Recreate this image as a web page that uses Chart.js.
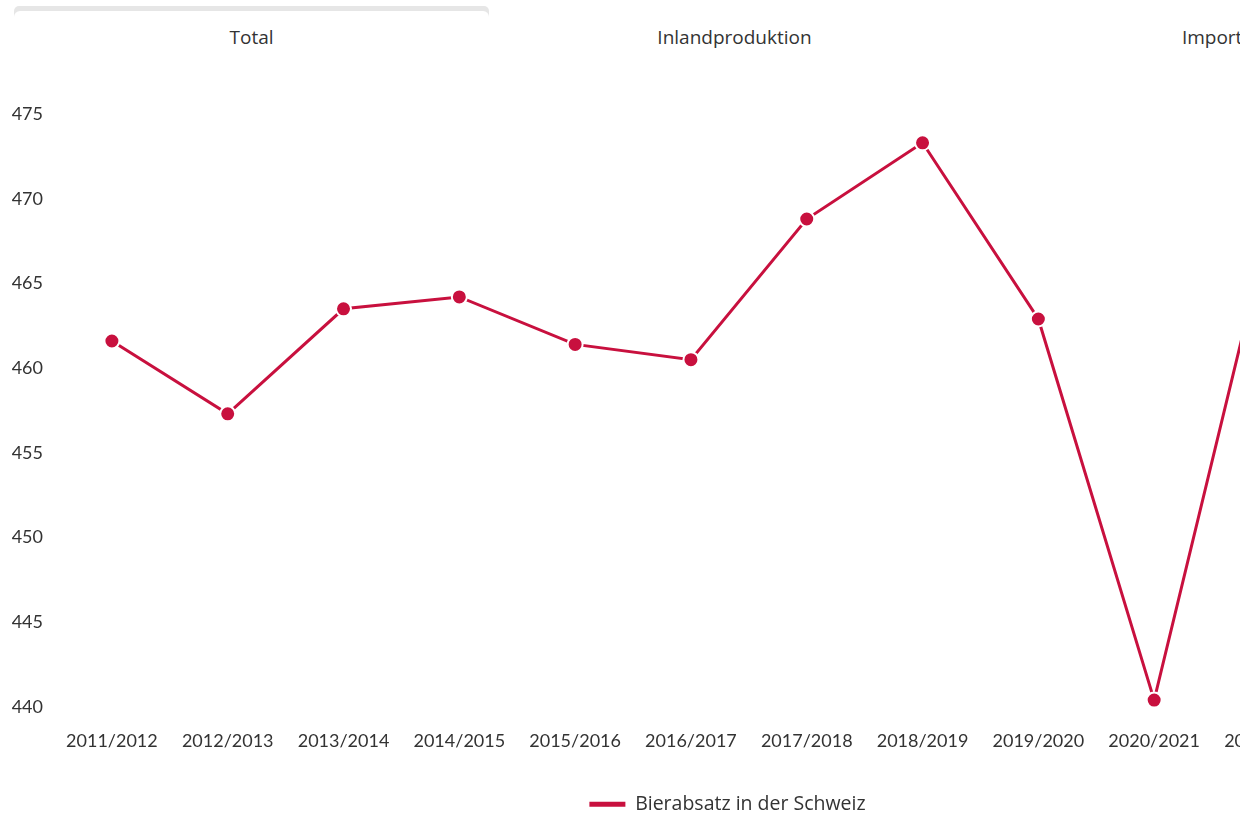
<!DOCTYPE html>
<html lang="de">
<head>
<meta charset="utf-8">
<title>Bierabsatz in der Schweiz</title>
<script src="https://cdn.jsdelivr.net/npm/chart.js@4/dist/chart.umd.min.js"></script>
<style>
  html, body { margin: 0; padding: 0; background: #fff; overflow: hidden; width: 1240px; height: 813px; }
  body { font-family: "Open Sans", Lato, sans-serif; color: #333; position: relative; }
  .tabs { position: absolute; left: 14px; top: 6px; width: 1441px; height: 54px; }
  .tab { position: absolute; top: 0; width: 475px; height: 54px; text-align: center; font-size: 19px; line-height: 19px; }
  .tab span { position: absolute; left: 0; right: 0; top: 22px; }
  .tab.active { background: #e6e6e6; border-radius: 5px 5px 0 0; }
  .tab.active::after { content: ""; position: absolute; left: 0; right: 0; top: 5px; bottom: 0; background: #fff; border-radius: 6px 6px 0 0; }
  .tab.active span { z-index: 1; }
  .chart-box { position: absolute; left: 0; top: 60px; width: 1455px; height: 764px; }
</style>
</head>
<body>
<div class="tabs">
  <div class="tab active" style="left:0"><span>Total</span></div>
  <div class="tab" style="left:483px"><span>Inlandproduktion</span></div>
  <div class="tab" style="left:966px"><span>Importe</span></div>
</div>
<div class="chart-box"><canvas id="chart"></canvas></div>
<script>
// Braujahre (Oktober bis September)
const years = ["2011/2012", "2012/2013", "2013/2014", "2014/2015", "2015/2016", "2016/2017",
               "2017/2018", "2018/2019", "2019/2020", "2020/2021", "2021/2022", "2022/2023"];
// Bierabsatz in Mio. Litern
const beerSales = [461.6, 457.3, 463.5, 464.2, 461.4, 460.5, 468.8, 473.3, 462.9, 440.4, 468.6, 462.0];
const seriesName = "Bierabsatz in der Schweiz";
const yTicks = [440, 445, 450, 455, 460, 465, 470, 475];

const red = "#c8103e";
const textColor = "#333333";
const tickFont = "Lato, 'Open Sans', sans-serif";
const textFont = "'Open Sans', Lato, sans-serif";

new Chart(document.getElementById("chart"), {
  type: "line",
  data: {
    labels: years,
    datasets: [{
      label: seriesName,
      data: beerSales,
      borderColor: red,
      backgroundColor: red,
      borderWidth: 3,
      tension: 0,
      pointRadius: 7.5,
      pointBorderWidth: 2,
      pointBorderColor: "#ffffff",
      pointBackgroundColor: red,
      clip: false
    }]
  },
  options: {
    responsive: true,
    maintainAspectRatio: false,
    animation: false,
    layout: { padding: { top: 54, left: 8, right: 8, bottom: 0 } },
    scales: {
      x: {
        offset: true,
        grid: { display: false, drawTicks: false },
        border: { display: false },
        ticks: { color: textColor, font: { family: tickFont, size: 18 }, padding: 23, maxRotation: 0, autoSkip: false }
      },
      y: {
        min: yTicks[0],
        max: yTicks[yTicks.length - 1],
        afterFit: s => { s.width = 46; },
        afterBuildTicks: s => { s.ticks = yTicks.map(v => ({ value: v })); },
        grid: { display: false, drawTicks: false },
        border: { display: false },
        ticks: { color: textColor, font: { family: tickFont, size: 18 }, padding: 11 }
      }
    },
    plugins: {
      tooltip: { enabled: false },
      legend: {
        position: "bottom",
        labels: {
          color: textColor,
          font: { family: textFont, size: 19.5 },
          boxWidth: 36,
          boxHeight: 5,
          padding: 20,
          generateLabels: chart => chart.data.datasets.map((ds, i) => ({
            text: ds.label,
            fillStyle: ds.borderColor,
            strokeStyle: ds.borderColor,
            lineWidth: 0,
            hidden: false,
            datasetIndex: i,
            fontColor: textColor
          }))
        }
      }
    }
  }
});
</script>
</body>
</html>
